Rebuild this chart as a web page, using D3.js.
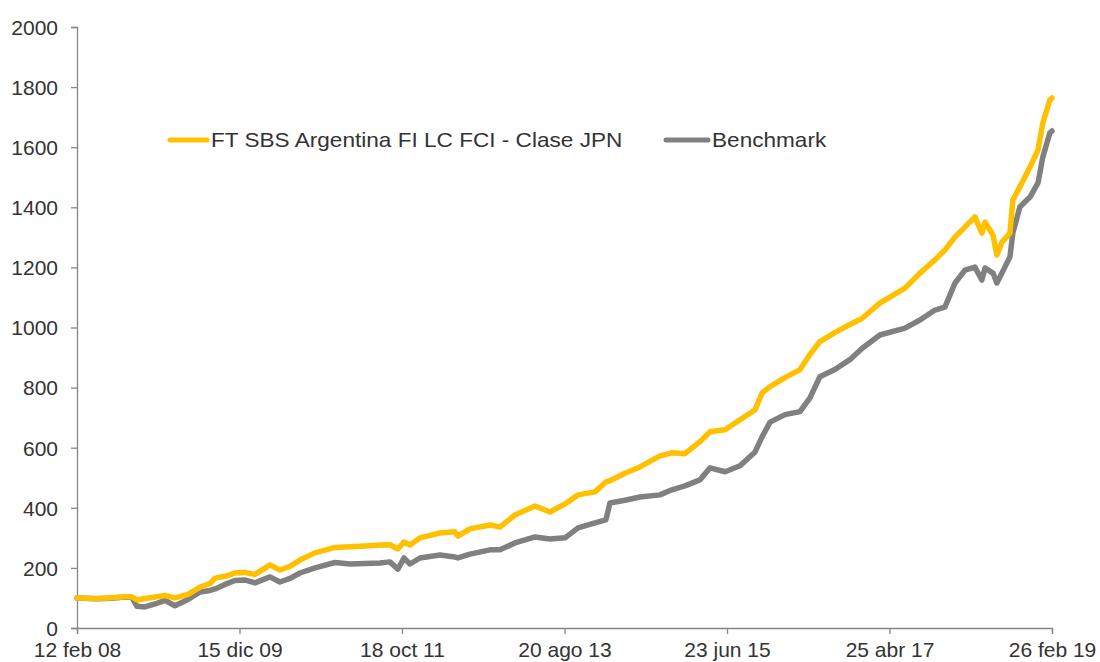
<!DOCTYPE html>
<html>
<head>
<meta charset="utf-8">
<script src="https://cdn.jsdelivr.net/npm/d3@7"></script>
<style>
	body { margin: 0; background: #fff; }
	svg { display: block; font-family: "Liberation Sans", Arial, sans-serif; }
</style>
</head>
<body>
<svg id="chart" width="1100" height="662"></svg>
<script>
// dates of the samples
var dates = [
	'2008-02-12', '2008-05-05', '2008-07-06', '2008-08-28', '2008-09-26', '2008-10-17', '2008-11-19', '2008-12-31',
	'2009-02-10', '2009-03-23', '2009-05-16', '2009-07-05', '2009-08-15', '2009-09-05', '2009-10-16', '2009-11-26',
	'2010-01-05', '2010-02-17', '2010-04-20', '2010-05-31', '2010-07-12', '2010-08-22', '2010-10-23', '2011-01-14',
	'2011-03-17', '2011-05-18', '2011-07-19', '2011-08-29', '2011-10-01', '2011-10-26', '2011-11-20', '2011-12-31',
	'2012-03-23', '2012-05-24', '2012-06-05', '2012-07-25', '2012-10-16', '2012-11-26', '2013-01-27', '2013-04-20',
	'2013-06-21', '2013-08-22', '2013-10-15', '2013-12-24', '2014-02-07', '2014-02-24', '2014-04-27', '2014-06-28',
	'2014-09-19', '2014-11-07', '2014-12-31', '2015-03-03', '2015-04-14', '2015-06-15', '2015-08-16', '2015-10-17',
	'2015-11-15', '2015-12-18', '2016-02-18', '2016-04-20', '2016-05-31', '2016-07-11', '2016-09-11', '2016-11-12',
	'2017-01-01', '2017-03-16', '2017-06-28', '2017-08-29', '2017-10-30', '2017-12-10', '2018-01-21', '2018-03-03',
	'2018-04-13', '2018-05-12', '2018-05-25', '2018-06-27', '2018-07-13', '2018-08-03', '2018-09-05', '2018-09-17',
	'2018-10-16', '2018-11-27', '2018-12-30', '2019-01-19', '2019-02-17', '2019-02-26'
];

var fundValues = [
	100, 98, 101, 104, 104, 93, 98, 103,
	108, 100, 112, 136, 148, 166, 172, 183,
	185, 178, 210, 193, 205, 226, 250, 268,
	270, 273, 276, 277, 263, 286, 276, 300,
	316, 320, 306, 330, 343, 336, 376, 406,
	386, 413, 443, 453, 486, 490, 515, 536,
	573, 583, 580, 620, 653, 660, 693, 726,
	782, 803, 833, 860, 910, 953, 983, 1010,
	1030, 1081, 1131, 1181, 1225, 1258, 1301, 1334,
	1368, 1314, 1351, 1308, 1241, 1284, 1314, 1424,
	1468, 1534, 1591, 1680, 1757, 1764
];

var benchValues = [
	100, 97, 99, 103, 102, 72, 70, 80,
	92, 74, 95, 120, 125, 130, 145, 158,
	160, 150, 170, 153, 165, 183, 200, 218,
	213, 215, 216, 220, 196, 233, 213, 233,
	243, 236, 233, 246, 260, 260, 283, 303,
	296, 300, 333, 350, 360, 416, 425, 436,
	443, 460, 473, 493, 533, 520, 540, 586,
	636, 685, 710, 720, 766, 836, 860, 893,
	930, 975, 998, 1025, 1058, 1068, 1148, 1191,
	1201, 1158, 1198, 1181, 1148, 1181, 1235, 1314,
	1401, 1434, 1481, 1567, 1647, 1654
];

var seriesNames = ['FT SBS Argentina FI LC FCI - Clase JPN', 'Benchmark'];
var seriesColors = ['#ffc000', '#808080'];

var tickDates = ['2008-02-12', '2009-12-15', '2011-10-18', '2013-08-20', '2015-06-23', '2017-04-25', '2019-02-26'];
var tickLabels = ['12 feb 08', '15 dic 09', '18 oct 11', '20 ago 13', '23 jun 15', '25 abr 17', '26 feb 19'];
var yTicks = [0, 200, 400, 600, 800, 1000, 1200, 1400, 1600, 1800, 2000];

var parse = d3.utcParse('%Y-%m-%d');
var svg = d3.select('#chart');

var x = d3.scaleUtc()
	.domain([parse('2008-02-12'), parse('2019-02-26')])
	.range([77, 1052]);

var y = d3.scaleLinear()
	.domain([0, 2000])
	.range([628, 27]);

var axisColor = '#868686',
	textColor = '#333';

// y axis
var yAxis = svg.append('g')
	.attr('transform', 'translate(77,0)')
	.call(d3.axisLeft(y).tickValues(yTicks).tickSize(6).tickPadding(13).tickFormat(d3.format('d')));

// x axis
var xAxis = svg.append('g')
	.attr('transform', 'translate(0,628)')
	.call(d3.axisBottom(x).tickValues(tickDates.map(parse)).tickSize(6).tickPadding(4)
		.tickFormat(function (d, i) { return tickLabels[i]; }));

[yAxis, xAxis].forEach(function (ax) {
	ax.select('.domain').attr('stroke', axisColor).attr('stroke-width', 1.3);
	ax.selectAll('.tick line').attr('stroke', axisColor).attr('stroke-width', 1.3);
	ax.selectAll('.tick text')
		.attr('fill', textColor)
		.style('font-size', '21px')
		.style('font-family', '"Liberation Sans", Arial, sans-serif');
});
yAxis.selectAll('.tick text').attr('dy', '0.35em');
xAxis.selectAll('.tick text').attr('dy', '0.9em');

var line = d3.line()
	.x(function (d) { return x(d.date); })
	.y(function (d) { return y(d.value); });

function toPoints(values) {
	return values.map(function (v, i) { return { date: parse(dates[i]), value: v }; });
}

// benchmark first, fund drawn on top
[[benchValues, seriesColors[1]], [fundValues, seriesColors[0]]].forEach(function (s) {
	svg.append('path')
		.datum(toPoints(s[0]))
		.attr('fill', 'none')
		.attr('stroke', s[1])
		.attr('stroke-width', 5.5)
		.attr('stroke-linejoin', 'round')
		.attr('stroke-linecap', 'round')
		.attr('d', line);
});

// legend (reference text is drawn a bit wide)
var legendPos = [[170, 211], [666, 712]];
seriesNames.forEach(function (name, i) {
	var g = svg.append('g');
	g.append('line')
		.attr('x1', legendPos[i][0]).attr('x2', legendPos[i][1] - 4)
		.attr('y1', 140).attr('y2', 140)
		.attr('stroke', seriesColors[i])
		.attr('stroke-width', 5)
		.attr('stroke-linecap', 'round');
	g.append('text')
		.attr('transform', 'translate(' + legendPos[i][1] + ',140) scale(1.13,1)')
		.attr('dy', '0.35em')
		.attr('fill', textColor)
		.style('font-size', '20px')
		.text(name);
});
</script>
</body>
</html>
